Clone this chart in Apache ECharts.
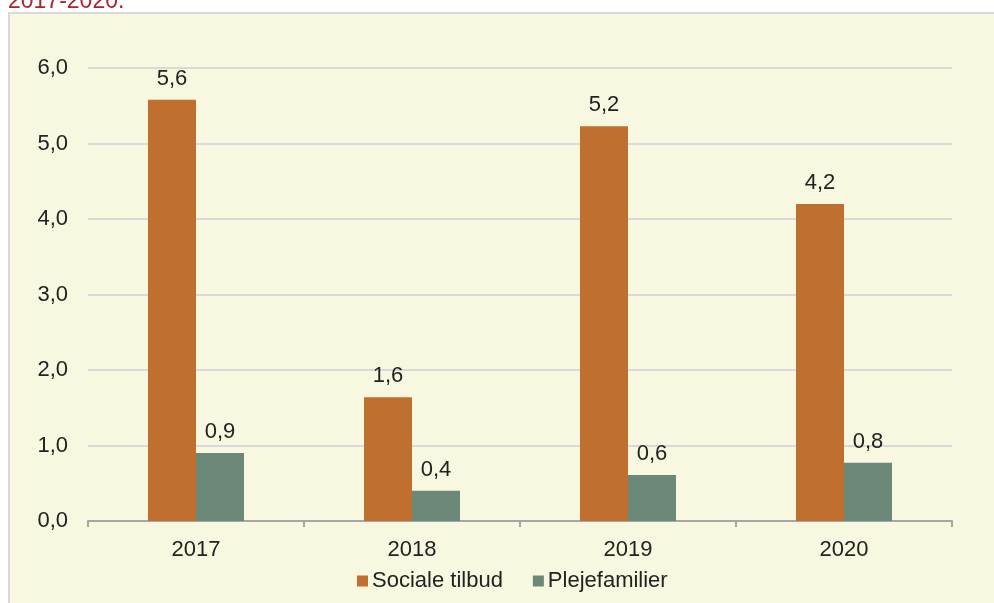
<!DOCTYPE html>
<html>
<head>
<meta charset="utf-8">
<script src="https://cdn.jsdelivr.net/npm/echarts@6/dist/echarts.min.js"></script>
<style>
  html, body { margin: 0; padding: 0; background: #fff; }
  #chart { width: 994px; height: 603px; }
</style>
</head>
<body>
<div id="chart"></div>
<script>
// data
const years = ['2017', '2018', '2019', '2020'];
const socialeTilbud = [5.58, 1.64, 5.23, 4.2];
const plejefamilier = [0.9, 0.4, 0.61, 0.77];
const seriesNames = ['Sociale tilbud', 'Plejefamilier'];

const FONT = '"Liberation Sans", Arial, sans-serif';

// tal med komma som decimaltegn
function fmt(v) {
    return v.toFixed(1).replace('.', ',');
}

const myChart = echarts.init(document.getElementById('chart'), null, { renderer: 'canvas' });

const option = {
    animation: false,
    backgroundColor: '#ffffff',
    textStyle: { fontFamily: FONT },
    graphic: [
        {
            type: 'rect',
            z: -10,
            shape: { x: 9, y: 13, width: 1000, height: 600 },
            style: { fill: '#F8F7E0', stroke: '#D9D9D9', lineWidth: 2 }
        },
        {
            type: 'text',
            left: 8,
            top: -10,
            style: { text: '2017-2020.', fill: '#AC2330', font: '23px ' + FONT }
        }
    ],
    grid: { left: 88, right: 42, top: 68, bottom: 82 },
    legend: {
        data: seriesNames,
        top: 565,
        left: 352,
        itemWidth: 11,
        itemHeight: 11,
        itemGap: 30,
        icon: 'rect',
        textStyle: { fontSize: 22, color: '#222', fontFamily: FONT, padding: [0, 0, 0, -1] }
    },
    xAxis: {
        type: 'category',
        data: years,
        axisLine: { lineStyle: { color: '#A6A6A6', width: 2 } },
        axisTick: { show: true, length: 6, lineStyle: { color: '#A6A6A6', width: 2 } },
        axisLabel: { fontSize: 22, color: '#222', margin: 18 }
    },
    yAxis: {
        type: 'value',
        min: 0,
        max: 6,
        interval: 1,
        axisLine: { show: false },
        axisTick: { show: false },
        axisLabel: { fontSize: 22, color: '#222', margin: 20, formatter: fmt },
        splitLine: { lineStyle: { color: '#D9D9D9', width: 2 } }
    },
    series: [
        {
            name: seriesNames[0],
            type: 'bar',
            data: socialeTilbud,
            barWidth: 48,
            barGap: '0%',
            itemStyle: { color: '#C06F2F' },
            label: { show: true, position: 'top', distance: 10, fontSize: 22, color: '#222', formatter: p => fmt(p.value) }
        },
        {
            name: seriesNames[1],
            type: 'bar',
            data: plejefamilier,
            barWidth: 48,
            itemStyle: { color: '#6B8878' },
            label: { show: true, position: 'top', distance: 10, fontSize: 22, color: '#222', formatter: p => fmt(p.value) }
        }
    ]
};

myChart.setOption(option);
</script>
</body>
</html>
